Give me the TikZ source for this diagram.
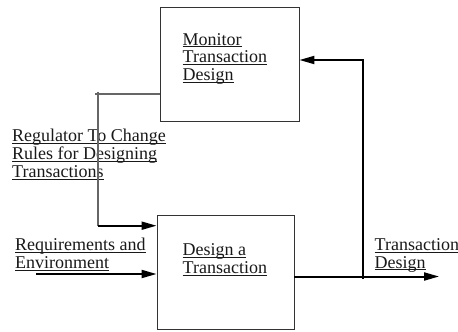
\documentclass[tikz,border=0pt]{standalone}
\usepackage{fontspec}
\setmainfont{Liberation Serif}
\usetikzlibrary{arrows.meta}
% underline that sits just below the baseline, crossing descenders
\newcommand\undl[1]{\setbox0\hbox{#1}\rlap{\rule[-2pt]{\wd0}{0.7pt}}\box0}
\tikzset{
  procbox/.style={draw=black!80, line width=0.9pt, rectangle, inner sep=0pt},
  lbl/.style={anchor=base west, inner sep=0pt, align=left, text=black!90,
    font=\fontsize{18}{17.8}\selectfont},
  flow/.style={line width=2pt, -{Triangle[length=15pt, width=8pt]}},
  thinflow/.style={draw=black!60, line width=1.2pt},
}
\begin{document}
\begin{tikzpicture}[x=1pt, y=-1pt]
\useasboundingbox (0,0) rectangle (458,332);

% process boxes
\node[procbox, minimum width=139pt, minimum height=114pt] (mon) at (229.5,64) {};
\node[procbox, minimum width=137pt, minimum height=114pt] (des) at (225.5,272) {};

% labels (placed by the baseline of their last line)
\node[lbl] (monlbl) at (182.5,80.7) {\undl{Monitor}\\\undl{Transaction}\\\undl{Design}};
\node[lbl] (deslbl) at (182.5,273.5) {\undl{Design a}\\\undl{Transaction}};
\node[lbl] (reglbl) at (12,177.5) {\undl{Regulator To Change}\\\undl{Rules for Designing}\\\undl{Transactions}};
\node[lbl] (reqlbl) at (15,268.3) {\undl{Requirements and}\\\undl{Environment}};
\node[lbl] (outlbl) at (374.5,268) {\undl{Transaction}\\\undl{Design}};

% connector end points
\coordinate (regturn) at (98,94);
\coordinate (regtop) at (98,91.5);
\coordinate (regleft) at (95,94);
\coordinate (regbot) at (98,225.7);
\coordinate (reqstart) at (36,274);
\coordinate (fbx) at (362.7,276.5);
\coordinate (fbbot) at (362.7,279);
\coordinate (fbtop) at (362.7,60);
\coordinate (outend) at (439,276.5);

% regulator feedback from monitor into design
\draw[thinflow] (mon.west |- regturn) -- (regleft);
\draw[thinflow] (regtop) -- (regbot);
\draw[flow] (regbot) -- (des.west |- regbot);

% requirements input
\draw[flow] (reqstart) -- (des.west |- reqstart);

% output and feedback to monitor
\draw[flow] (des.east |- fbx) -- (outend);
\draw[line width=2pt] (fbbot) -- (fbtop);
\draw[flow] ([xshift=1pt]fbtop) -- (mon.east |- fbtop);
\end{tikzpicture}
\end{document}
